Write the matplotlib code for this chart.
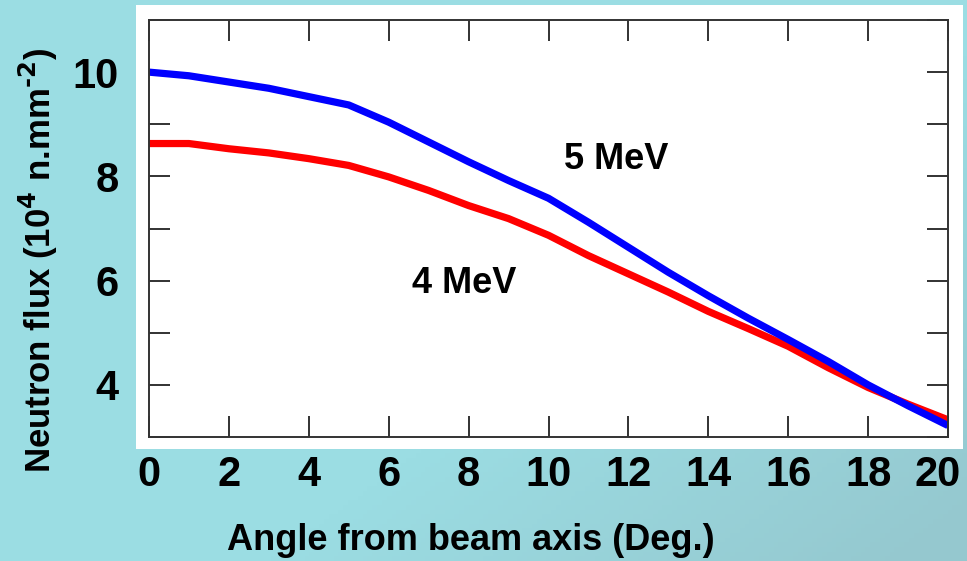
import numpy as np
import matplotlib.pyplot as plt
import matplotlib.transforms as mtransforms
from matplotlib.patches import Rectangle

# angle from beam axis (deg.)
angle = [0, 1, 2, 3, 4, 5, 6, 7, 8, 9, 10, 11, 12, 13, 14, 15, 16, 17, 18, 19, 20]

# neutron flux (10^4 n.mm^-2)
flux_5mev = [10.0, 9.93, 9.81, 9.69, 9.53, 9.37, 9.04, 8.66, 8.28, 7.92, 7.58,
             7.12, 6.64, 6.16, 5.71, 5.28, 4.87, 4.45, 4.00, 3.60, 3.22]
flux_4mev = [8.63, 8.63, 8.53, 8.45, 8.34, 8.21, 7.99, 7.73, 7.44, 7.19, 6.87,
             6.48, 6.13, 5.78, 5.41, 5.08, 4.74, 4.33, 3.95, 3.63, 3.33]

plt.rcParams['font.family'] = ['Liberation Sans', 'DejaVu Sans']
plt.rcParams['font.weight'] = 'bold'
plt.rcParams['mathtext.default'] = 'bf'

fig = plt.figure(figsize=(9.67, 5.61), dpi=100)

# fondo azul claro con un ligero degradado abajo a la derecha
bg = fig.add_axes([0, 0, 1, 1], zorder=0)
gx, gy = np.meshgrid(np.linspace(0, 1, 200), np.linspace(0, 1, 120))
grad = np.clip((gx - 0.6) * 1.5 + (gy - 0.6) * 1.2, 0, 1)
c0 = np.array([0x9b, 0xdd, 0xe3]) / 255
c1 = np.array([0x95, 0xc8, 0xcf]) / 255
img = c0[None, None, :] * (1 - grad[..., None]) + c1[None, None, :] * grad[..., None]
bg.imshow(img, aspect='auto', extent=[0, 1, 0, 1])
bg.axis('off')

# recuadro blanco detras del grafico
bg.add_patch(Rectangle((136 / 967, 1 - 449 / 561), (963 - 136) / 967, (449 - 5) / 561,
                       transform=fig.transFigure, facecolor='white', edgecolor='none'))

ax = fig.add_axes([149 / 967, 1 - 437 / 561, (948 - 149) / 967, (437 - 20) / 561], zorder=2)
ax.set_facecolor('white')

ax.plot(angle, flux_4mev, color='#ff0000', lw=5.2, solid_capstyle='butt')
ax.plot(angle, flux_5mev, color='#0000ff', lw=5.2, solid_capstyle='butt')

ax.set_xlim(0, 20)
ax.set_ylim(3, 11)
ax.set_xticks(range(0, 21, 2))
ax.set_yticks([4, 6, 8, 10])
ax.set_yticks(range(3, 12), minor=True)

ax.tick_params(which='both', direction='in', top=True, right=True,
               length=15, width=1.3, color='#222222')
ax.tick_params(axis='x', labelsize=30, pad=13)
ax.tick_params(axis='y', labelsize=30, pad=22)
for lab in ax.get_xticklabels() + ax.get_yticklabels():
    lab.set_fontweight('bold')
for s in ax.spines.values():
    s.set_linewidth(1.4)
    s.set_color('#333333')

# la etiqueta "20" queda un poco a la izquierda del tick
last = ax.get_xticklabels()[-1]
last.set_transform(last.get_transform() +
                   mtransforms.ScaledTranslation(-10 / 100, 0, fig.dpi_scale_trans))

ax.text(7.9, 5.95, '4 MeV', fontsize=26, fontweight='bold', ha='center', va='center')
ax.text(11.7, 8.33, '5 MeV', fontsize=26, fontweight='bold', ha='center', va='center')

fig.text(471 / 967, 1 - 540 / 561, 'Angle from beam axis (Deg.)', fontsize=26,
         fontweight='bold', ha='center', va='center')
fig.text(38 / 967, 1 - 260 / 561, 'Neutron flux (10$^{4}$ n.mm$^{\\text{-}2}$)',
         fontsize=25, fontweight='bold', ha='center', va='center', rotation=90)

fig.savefig('out.png', dpi=100)
